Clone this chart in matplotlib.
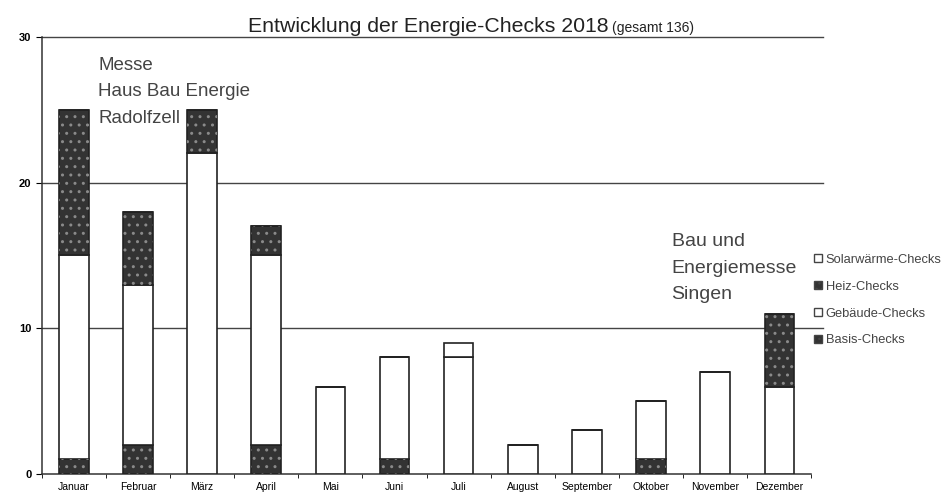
import matplotlib
matplotlib.use("Agg")
import matplotlib.pyplot as plt
from matplotlib.patches import Patch
import numpy as np

plt.rcParams['font.family'] = ['Liberation Sans', 'DejaVu Sans']

months = ["Januar", "Februar", "März", "April", "Mai", "Juni", "Juli",
          "August", "September", "Oktober", "November", "Dezember"]
basis = [1, 2, 0, 2, 0, 1, 0, 0, 0, 1, 0, 0]
gebaeude = [14, 11, 22, 13, 6, 7, 8, 2, 3, 4, 7, 6]
heiz = [10, 5, 3, 2, 0, 0, 0, 0, 0, 0, 0, 5]
solar = [0, 0, 0, 0, 0, 0, 1, 0, 0, 0, 0, 0]
total = sum(basis) + sum(gebaeude) + sum(heiz) + sum(solar)

dark = "#333333"
x = np.arange(len(months))
w = 0.46

fig = plt.figure(figsize=(9.49, 4.99), dpi=100)
ax = fig.add_axes([0.044, 0.05, 0.811, 0.876])

series = [("Basis-Checks", basis, dark),
          ("Gebäude-Checks", gebaeude, "white"),
          ("Heiz-Checks", heiz, dark),
          ("Solarwärme-Checks", solar, "white")]
bottom = np.zeros(len(months))
for name, vals, col in series:
    vals = np.array(vals)
    ax.bar(x, vals, w, bottom=bottom, color=col, edgecolor="#222222", linewidth=1.2, zorder=3)
    if col == dark:
        # speckled look of the scan
        ax.bar(x, vals, w, bottom=bottom, color="none", edgecolor="#8a8a8a",
               hatch="..", linewidth=0, zorder=4)
    bottom += vals

ax.set_xlim(-0.48, 11.48)
ax.set_ylim(0, 30)
ax.set_yticks([0, 10, 20, 30])
ax.set_yticklabels(["0", "10", "20", "30"], fontsize=8, fontweight="bold")
ax.set_xticks(x)
ax.set_xticklabels(months, fontsize=7.5)
ax.set_xticks(np.arange(-0.5, 12, 1), minor=True)
ax.tick_params(axis="x", which="major", length=0, pad=6)
ax.tick_params(axis="x", which="minor", length=3)
ax.tick_params(axis="y", length=4)
for s in ["top", "right"]:
    ax.spines[s].set_visible(False)
for s in ["left", "bottom"]:
    ax.spines[s].set_color("#333333")
    ax.spines[s].set_linewidth(1.1)
for yv in [10, 20, 30]:
    ax.axhline(yv, color="#444444", linewidth=1.0, zorder=1, xmax=1.015, clip_on=False)

fig.text(0.261, 0.935, "Entwicklung der Energie-Checks 2018", fontsize=15.3, color="#222222")
fig.text(0.645, 0.935, "(gesamt %d)" % total, fontsize=10, color="#222222")

ax.text(0.38, 28.6, "Messe\nHaus Bau Energie\nRadolfzell", fontsize=13.5, color="#444444",
        va="top", linespacing=1.7)
ax.text(9.32, 16.55, "Bau und\nEnergiemesse\nSingen", fontsize=14, color="#444444",
        va="top", linespacing=1.75)

handles = [Patch(facecolor=c, edgecolor="#444444", hatch="..." if c == dark else None, label=n)
           for n, v, c in series[::-1]]
ax.legend(handles=handles, loc="center left", bbox_to_anchor=(0.995, 0.398), frameon=False,
          fontsize=9.3, handlelength=0.6, handleheight=0.6, handletextpad=0.3,
          labelspacing=1.15, labelcolor="#444444", borderpad=0)

fig.savefig("out.png", dpi=100)
